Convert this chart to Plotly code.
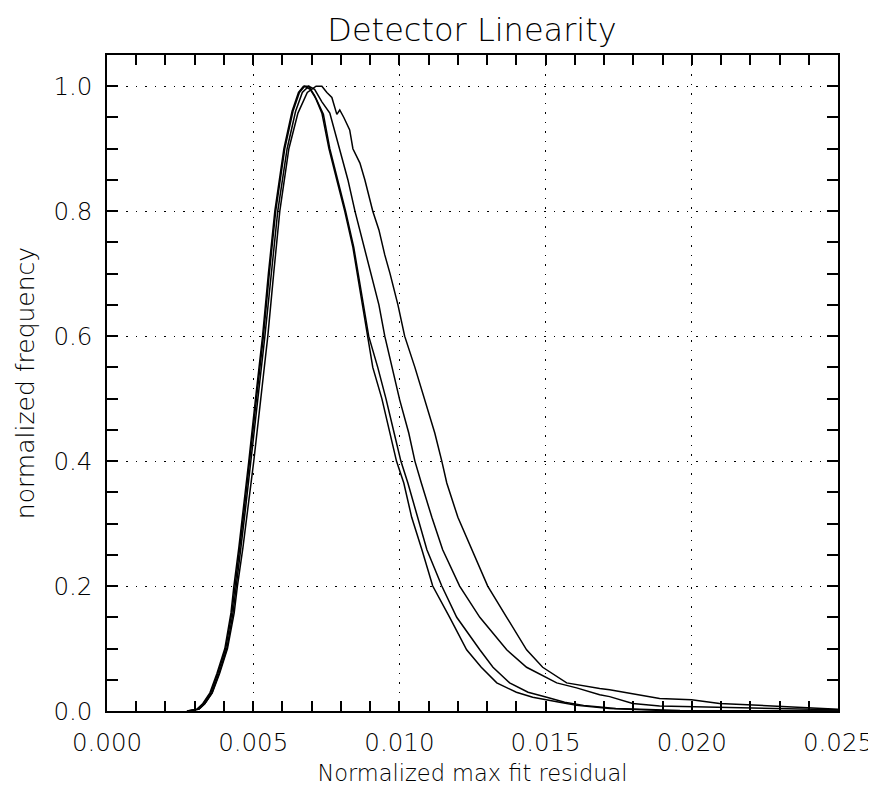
import plotly.graph_objects as go

# Curve data (x = normalized max fit residual, y = normalized frequency)
c1_x = [0.00273, 0.00308, 0.00328, 0.00352, 0.00376, 0.00403, 0.00424, 0.00434, 0.00451, 0.00465,
        0.00485, 0.00508, 0.00532, 0.00552, 0.00574, 0.00605, 0.00633, 0.00655, 0.00672,
        0.00690, 0.00710, 0.00735, 0.00759, 0.00786, 0.00813, 0.00841, 0.00858, 0.00872, 0.00892,
        0.00909, 0.00940, 0.00965, 0.00990, 0.01015, 0.01042, 0.01077, 0.01114, 0.01172, 0.01230,
        0.01280, 0.01333, 0.01400, 0.01456, 0.01548, 0.01606, 0.01719, 0.01890, 0.02100, 0.02500]
c1_y = [0.0, 0.003, 0.012, 0.029, 0.06, 0.10, 0.157, 0.20, 0.262, 0.317,
        0.40, 0.50, 0.60, 0.70, 0.80, 0.90, 0.96, 0.99, 1.0,
        1.0, 0.985, 0.957, 0.90, 0.85, 0.80, 0.742, 0.694, 0.65, 0.60,
        0.55, 0.50, 0.45, 0.40, 0.365, 0.31, 0.258, 0.20, 0.15, 0.098,
        0.07, 0.045, 0.030, 0.022, 0.014, 0.009, 0.004, 0.001, 0.0005, 0.0]

c2_x = [0.00275, 0.00310, 0.00330, 0.00355, 0.00379, 0.00406, 0.00427, 0.00437, 0.00454, 0.00468,
        0.00488, 0.00511, 0.00535, 0.00555, 0.00577, 0.00608, 0.00636, 0.00658, 0.00676,
        0.00695, 0.00715, 0.00740, 0.00762, 0.00789, 0.00816, 0.00844, 0.00861, 0.00876, 0.00895,
        0.00926, 0.00954, 0.00982, 0.01005, 0.01029, 0.01063, 0.01094, 0.01145, 0.01196, 0.01275,
        0.01320, 0.01377, 0.01440, 0.01504, 0.01565, 0.01630, 0.01740, 0.01960, 0.02200, 0.02500]
c2_y = [0.0, 0.003, 0.012, 0.029, 0.06, 0.10, 0.157, 0.20, 0.262, 0.317,
        0.40, 0.50, 0.60, 0.70, 0.80, 0.90, 0.96, 0.99, 1.0,
        0.995, 0.98, 0.955, 0.90, 0.85, 0.80, 0.742, 0.694, 0.65, 0.60,
        0.55, 0.50, 0.445, 0.40, 0.365, 0.31, 0.258, 0.20, 0.15, 0.098,
        0.07, 0.045, 0.030, 0.022, 0.014, 0.009, 0.004, 0.001, 0.0005, 0.0]

c3_x = [0.00280, 0.00315, 0.00335, 0.00359, 0.00383, 0.00410, 0.00431, 0.00441, 0.00458, 0.00472,
        0.00493, 0.00516, 0.00540, 0.00561, 0.00584, 0.00616, 0.00645, 0.00668, 0.00690,
        0.00710, 0.00735, 0.00762, 0.00796, 0.00824, 0.00848, 0.00875, 0.00902, 0.00930, 0.00950,
        0.00974, 0.01001, 0.01032, 0.01053, 0.01075, 0.01111, 0.01148, 0.01206, 0.01275, 0.01367,
        0.01435, 0.01538, 0.01606, 0.01685, 0.01719, 0.01798, 0.01890, 0.02003, 0.02119, 0.02232,
        0.02345, 0.02500]
c3_y = [0.0, 0.003, 0.012, 0.029, 0.06, 0.10, 0.157, 0.20, 0.262, 0.317,
        0.40, 0.50, 0.60, 0.70, 0.80, 0.90, 0.96, 0.99, 1.0,
        0.995, 0.975, 0.957, 0.90, 0.85, 0.80, 0.75, 0.70, 0.65, 0.60,
        0.55, 0.498, 0.445, 0.40, 0.365, 0.31, 0.258, 0.20, 0.15, 0.098,
        0.07, 0.045, 0.037, 0.026, 0.023, 0.012, 0.008, 0.007, 0.006, 0.004,
        0.003, 0.002]

c4_x = [0.00280, 0.00315, 0.00335, 0.00360, 0.00385, 0.00412, 0.00435, 0.00446, 0.00465, 0.00480,
        0.00502, 0.00526, 0.00550, 0.00570, 0.00591, 0.00622, 0.00653, 0.00685, 0.00715,
        0.00735, 0.00752, 0.00769, 0.00786, 0.00796, 0.00810, 0.00830, 0.00841, 0.00865, 0.00882,
        0.00909, 0.00930, 0.00950, 0.00968, 0.00995, 0.01018, 0.01053, 0.01087, 0.01121, 0.01145,
        0.01162, 0.01200, 0.01247, 0.01302, 0.01367, 0.01435, 0.01490, 0.01548, 0.01572, 0.01685,
        0.01719, 0.01890, 0.01999, 0.02095, 0.02300, 0.02392, 0.02500]
c4_y = [0.0, 0.003, 0.012, 0.029, 0.06, 0.10, 0.157, 0.20, 0.262, 0.317,
        0.40, 0.50, 0.60, 0.70, 0.80, 0.90, 0.957, 0.99, 1.0,
        1.0, 0.99, 0.982, 0.955, 0.962, 0.95, 0.93, 0.90, 0.877, 0.85,
        0.80, 0.77, 0.73, 0.70, 0.65, 0.60, 0.55, 0.498, 0.445, 0.40,
        0.365, 0.31, 0.258, 0.20, 0.15, 0.098, 0.07, 0.053, 0.045, 0.036,
        0.034, 0.02, 0.018, 0.012, 0.007, 0.005, 0.003]

x_ticks = [0.000, 0.005, 0.010, 0.015, 0.020, 0.025]
y_ticks = [0.0, 0.2, 0.4, 0.6, 0.8, 1.0]

FONT = "DejaVu Sans"
TXT = dict(family=FONT, color="black", weight=200)

# The page body adds an 8px offset, so the figure is 8px smaller than the window.
W, H = 868, 783

fig = go.Figure()
for xs, ys in [(c1_x, c1_y), (c2_x, c2_y), (c3_x, c3_y), (c4_x, c4_y)]:
    fig.add_trace(go.Scatter(x=xs, y=ys, mode="lines",
                             line=dict(color="black", width=1.5),
                             showlegend=False, hoverinfo="skip"))

axis_common = dict(
    showline=True, linecolor="black", linewidth=1.5, mirror="ticks",
    ticks="inside", ticklen=0, tickcolor="black",
    showgrid=True, gridcolor="black", gridwidth=1, griddash="1.5px,8px",
    zeroline=False, automargin=False,
    tickfont=dict(size=24.5, **TXT),
)

fig.update_xaxes(
    range=[0, 0.025], tickvals=x_ticks, ticktext=[f"{v:.3f}" for v in x_ticks],
    minor=dict(dtick=0.001, ticks="inside", ticklen=10, tickcolor="black", tickwidth=1.5, showgrid=False),
    ticklabelstandoff=9,
    title=dict(text="Normalized max fit residual", font=dict(size=22.5, **TXT), standoff=9),
    **axis_common,
)
fig.update_yaxes(
    range=[0, 1.05], tickvals=y_ticks, ticktext=[f"{v:.1f}" for v in y_ticks],
    minor=dict(dtick=0.05, ticks="inside", ticklen=11, tickcolor="black", tickwidth=1.5, showgrid=False),
    ticklabelstandoff=8,
    title=dict(text="normalized frequency", font=dict(size=25, **TXT), standoff=12),
    **axis_common,
)

fig.update_layout(
    width=W, height=H,
    margin=dict(l=99, r=38, t=47, b=80, autoexpand=False),
    paper_bgcolor="white", plot_bgcolor="white",
    title=dict(text="Detector Linearity", x=464 / W, xanchor="center",
               y=1 - 22 / H, yanchor="middle", automargin=False,
               font=dict(size=32, **TXT)),
)

fig.write_html("out.html", config={"displayModeBar": False})
